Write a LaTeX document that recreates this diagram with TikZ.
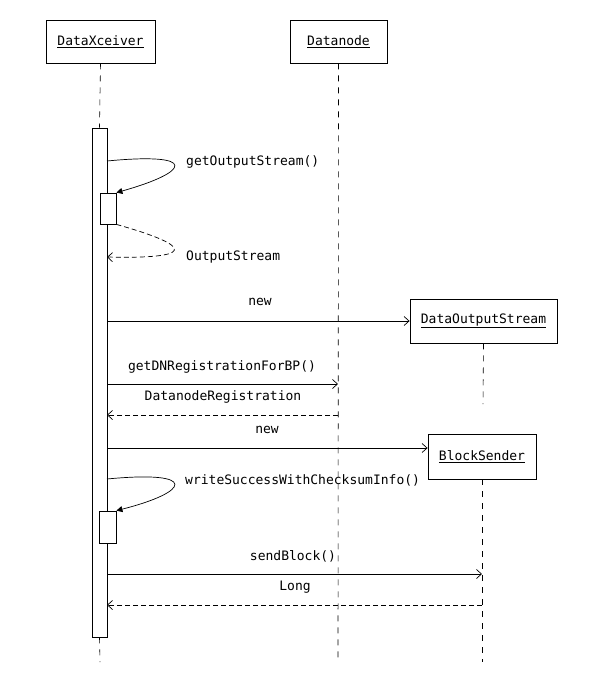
\documentclass[tikz,border=0pt]{standalone}
\usepackage{fontspec}
\setmonofont{DejaVu Sans Mono}
\usetikzlibrary{arrows.meta}
\def\msgfont{\fontsize{13}{15}\ttfamily}
\def\objname#1{\underline{#1}}

\begin{document}
\begin{tikzpicture}[x=1pt, y=-1pt,
	obj/.style={draw, line width=0.8pt, inner sep=0pt, font=\msgfont},
	bar/.style={draw, line width=0.8pt, inner sep=0pt, fill=white},
	life/.style={line width=0.6pt, dash pattern=on 6pt off 6pt},
	call/.style={line width=0.7pt, -{Straight Barb[length=5pt,width=9pt]}},
	selfcall/.style={line width=0.7pt, -{Triangle[length=6pt,width=6pt]}},
	ret/.style={line width=0.7pt, dash pattern=on 5pt off 3pt, -{Straight Barb[length=5pt,width=9pt]}},
	lbl/.style={font=\msgfont, inner sep=1pt}]
	%%%%% START %%%%%
	
	\useasboundingbox (0, 0) rectangle (590, 693);
	
	% objects
	\node[obj, minimum width=109pt, minimum height=43pt] (xceiver) at (100.5, 41.5) {\objname{DataXceiver}};
	\node[obj, minimum width=97pt, minimum height=43pt] (datanode) at (338.5, 41.5) {\objname{Datanode}};
	\node[obj, minimum width=147pt, minimum height=44pt] (dos) at (483.5, 321) {\objname{DataOutputStream}};
	\node[obj, minimum width=108pt, minimum height=45pt] (sender) at (482, 456.5) {\objname{BlockSender}};
	
	% activation bars
	\node[bar, minimum width=15pt, minimum height=509pt] (act) at (99.5, 382.5) {};
	\node[bar, minimum width=16pt, minimum height=31pt] (act1) at (108, 208.5) {};
	\node[bar, minimum width=17pt, minimum height=32pt] (act2) at (107.5, 527) {};
	
	% lifelines
	\coordinate (xend) at (100, 662);
	\coordinate (dnend) at (338, 662);
	\coordinate (dosend) at (483, 404);
	\coordinate (bsend) at (482, 662);
	\draw[life] (xceiver.south) -- (act.north);
	\draw[life] (act.south) -- (xend);
	\draw[life] (datanode.south) -- (dnend);
	\draw[life] (dos.south) -- (dosend);
	\draw[life] (sender.south) -- (bsend);
	
	% getOutputStream()
	\coordinate (s1) at (107, 161);
	\draw[selfcall] (s1) .. controls (200, 152) and (190, 172) .. (act1.north east);
	\node[lbl, anchor=west] (l1) at (185, 162) {getOutputStream()};
	\coordinate (r1) at (107, 257);
	\draw[ret] (act1.south east) .. controls (200, 248) and (190, 259) .. (r1);
	\node[lbl, anchor=west] (l2) at (185, 257) {OutputStream};
	
	% new DataOutputStream
	\coordinate (n1) at (107, 321);
	\draw[call] (n1) -- (dos.west);
	\node[lbl] (l3) at (260, 302) {new};
	
	% getDNRegistrationForBP()
	\coordinate (g1) at (107, 384);
	\coordinate (g2) at (338, 384);
	\draw[call] (g1) -- (g2);
	\node[lbl] (l4) at (222, 367) {getDNRegistrationForBP()};
	\coordinate (g3) at (338, 415);
	\coordinate (g4) at (107, 415);
	\draw[ret] (g3) -- (g4);
	\node[lbl] (l5) at (223, 397) {DatanodeRegistration};
	
	% new BlockSender
	\coordinate (n2) at (107, 448);
	\draw[call] (n2) -- (n2 -| sender.west);
	\node[lbl] (l6) at (267, 430) {new};
	
	% writeSuccessWithChecksumInfo()
	\coordinate (s2) at (107, 479);
	\draw[selfcall] (s2) .. controls (200, 470) and (190, 492) .. (act2.north east);
	\node[lbl, anchor=west] (l7) at (184, 480) {writeSuccessWithChecksumInfo()};
	
	% sendBlock()
	\coordinate (b1) at (107, 574);
	\coordinate (b2) at (482, 574);
	\draw[call] (b1) -- (b2);
	\node[lbl] (l8) at (293, 556) {sendBlock()};
	\coordinate (b3) at (482, 605);
	\coordinate (b4) at (107, 605);
	\draw[ret] (b3) -- (b4);
	\node[lbl] (l9) at (295, 587) {Long};
	
	%%%%% END %%%%%
\end{tikzpicture}
\end{document}
